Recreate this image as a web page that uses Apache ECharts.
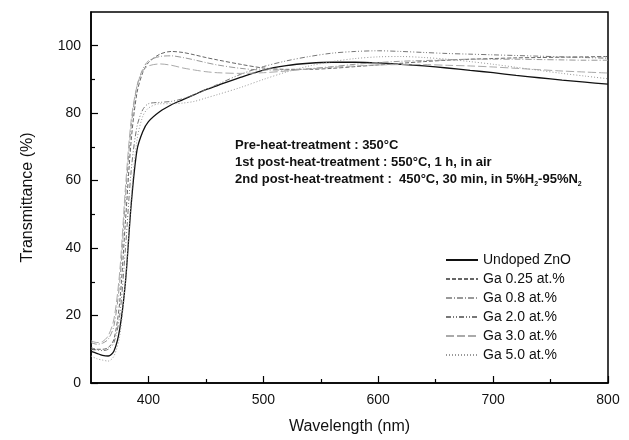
<!DOCTYPE html>
<html>
<head>
<meta charset="utf-8">
<script src="https://cdn.jsdelivr.net/npm/echarts@6/dist/echarts.min.js"></script>
<style>
  html, body { margin: 0; padding: 0; background: #fff; }
  #chart { width: 629px; height: 440px; }
</style>
</head>
<body>
<div id="chart"></div>
<script>
// wavelengths (nm)
var wavelength = [350, 355, 360, 365, 370, 375, 380, 385, 390, 395, 400, 410, 420, 430, 440, 450, 460, 480,
    500, 520, 540, 560, 580, 600, 620, 640, 660, 680, 700, 720, 740, 760, 780, 800];

// transmittance (%) per sample
var undoped = [9.4, 8.8, 8.2, 8.0, 9.5, 16, 30, 53, 69, 74.5, 77.5, 80.5, 82.5, 84, 85.5, 87, 88.2, 90.6,
    92.8, 94.1, 94.8, 95.1, 95.1, 94.9, 94.5, 94, 93.4, 92.7, 92, 91.2, 90.5, 89.8, 89.2, 88.6];
var ga025 = [10.5, 10, 10, 10.5, 13, 24, 48, 72, 86, 92, 95, 97.5, 98.3, 98, 97.3, 96.5, 95.8, 94.5,
    93.4, 93, 93, 93.3, 93.8, 94.3, 94.8, 95.3, 95.7, 96, 96.2, 96.4, 96.5, 96.6, 96.7, 96.8];
var ga08 = [12, 11.5, 11.8, 13, 17, 30, 55, 76, 88, 93, 95.5, 96.8, 97, 96.5, 95.8, 95, 94.3, 93.3,
    92.8, 92.8, 93.2, 93.8, 94.5, 95, 95.4, 95.6, 95.8, 96, 96, 96, 95.9, 95.8, 95.7, 95.7];
var ga20 = [10, 9.8, 9.6, 10, 12, 20, 40, 63, 76, 81, 82.8, 83.2, 83.5, 84.3, 85.5, 87, 88.5, 91.5,
    93.8, 95.5, 96.8, 97.8, 98.3, 98.5, 98.3, 98, 97.7, 97.5, 97.3, 97.1, 96.9, 96.7, 96.5, 96.3];
var ga30 = [12.5, 12, 12.3, 14, 19, 33, 58, 78, 88, 92.5, 94, 94.6, 94.2, 93.4, 92.8, 92.3, 92, 91.8,
    92, 92.5, 93.1, 93.6, 94, 94.3, 94.4, 94.4, 94.2, 94, 93.7, 93.3, 92.9, 92.5, 92.2, 91.9];
var ga50 = [8, 7.2, 6.8, 6.5, 8, 14, 30, 55, 72, 79, 81.5, 82.8, 82.8, 83, 83.5, 84.5, 85.5, 87.6,
    90, 92.2, 94, 95.3, 96.2, 96.7, 96.8, 96.5, 96, 95.3, 94.5, 93.6, 92.7, 91.8, 91, 90.2];

var seriesNames = ['Undoped ZnO', 'Ga 0.25 at.%', 'Ga 0.8 at.%', 'Ga 2.0 at.%', 'Ga 3.0 at.%', 'Ga 5.0 at.%'];
var xTicks = [400, 500, 600, 700, 800];
var xMinorTicks = [450, 550, 650, 750];
var yTicks = [0, 20, 40, 60, 80, 100];
var yMinorTicks = [10, 30, 50, 70, 90];

var font = 'Liberation Sans, Arial, sans-serif';

function pairs(ys) {
    return wavelength.map(function (x, i) { return [x, ys[i]]; });
}

function makeSeries(name, ys, color, width, type) {
    return {
        name: name,
        type: 'line',
        data: pairs(ys),
        smooth: 0.3,
        symbol: 'none',
        showSymbol: false,
        lineStyle: { color: color, width: width, type: type },
        itemStyle: { color: color }
    };
}

var myChart = echarts.init(document.getElementById('chart'));
var option = {
    animation: false,
    backgroundColor: '#fff',
    grid: {
        left: 91, right: 21, top: 12, bottom: 55,
        show: true, borderColor: '#000', borderWidth: 1.5, backgroundColor: 'transparent'
    },
    xAxis: [{
        type: 'value', min: 350, max: 800,
        name: 'Wavelength (nm)', nameLocation: 'middle', nameGap: 36,
        nameTextStyle: { fontFamily: font, fontSize: 16, color: '#111' },
        axisLine: { lineStyle: { color: '#000', width: 1.5 } },
        axisTick: { inside: true, length: 7, customValues: xTicks, lineStyle: { color: '#000', width: 1.2 } },
        axisLabel: { customValues: xTicks, fontFamily: font, fontSize: 14, color: '#111', margin: 10 },
        splitLine: { show: false }
    }, {
        type: 'value', min: 350, max: 800, position: 'bottom',
        axisLine: { show: false },
        axisTick: { inside: true, length: 4, customValues: xMinorTicks, lineStyle: { color: '#000', width: 1.2 } },
        axisLabel: { show: false },
        splitLine: { show: false }
    }],
    yAxis: [{
        type: 'value', min: 0, max: 110,
        name: 'Transmittance (%)', nameLocation: 'middle', nameGap: 55,
        nameTextStyle: { fontFamily: font, fontSize: 16, color: '#111' },
        axisLine: { lineStyle: { color: '#000', width: 1.5 } },
        axisTick: { inside: true, length: 7, customValues: yTicks, lineStyle: { color: '#000', width: 1.2 } },
        axisLabel: { customValues: yTicks, fontFamily: font, fontSize: 14, color: '#111', margin: 10 },
        splitLine: { show: false }
    }, {
        type: 'value', min: 0, max: 110, position: 'left',
        axisLine: { show: false },
        axisTick: { inside: true, length: 4, customValues: yMinorTicks, lineStyle: { color: '#000', width: 1.2 } },
        axisLabel: { show: false },
        splitLine: { show: false }
    }],
    legend: {
        orient: 'vertical', left: 440, top: 248,
        itemWidth: 32, itemHeight: 14, itemGap: 5,
        itemStyle: { opacity: 0 },
        textStyle: { fontFamily: font, fontSize: 14, color: '#111' },
        data: seriesNames
    },
    graphic: [{
        type: 'text', left: 235, top: 139,
        style: {
            text: '{b|Pre-heat-treatment : 350°C}\n{b|1st post-heat-treatment : 550°C, 1 h, in air}\n' +
                '{b|2nd post-heat-treatment :  450°C, 30 min, in 5%H}{s|2}{b|-95%N}{s|2}',
            rich: {
                b: { fontFamily: font, fontWeight: 'bold', fontSize: 13, lineHeight: 17, fill: '#111', verticalAlign: 'bottom' },
                s: { fontFamily: font, fontWeight: 'bold', fontSize: 7, lineHeight: 17, fill: '#111', verticalAlign: 'bottom', padding: [0, 0, -2, 0] }
            }
        }
    }],
    series: [
        makeSeries(seriesNames[0], undoped, '#111', 1.3, 'solid'),
        makeSeries(seriesNames[1], ga025, '#666', 1, [4, 2]),
        makeSeries(seriesNames[2], ga08, '#999', 1, [6, 2, 1, 2]),
        makeSeries(seriesNames[3], ga20, '#777', 1, [5, 2, 1, 2, 1, 2]),
        makeSeries(seriesNames[4], ga30, '#aaa', 1, [8, 3]),
        makeSeries(seriesNames[5], ga50, '#999', 1, [1, 2])
    ]
};
myChart.setOption(option);
</script>
</body>
</html>
